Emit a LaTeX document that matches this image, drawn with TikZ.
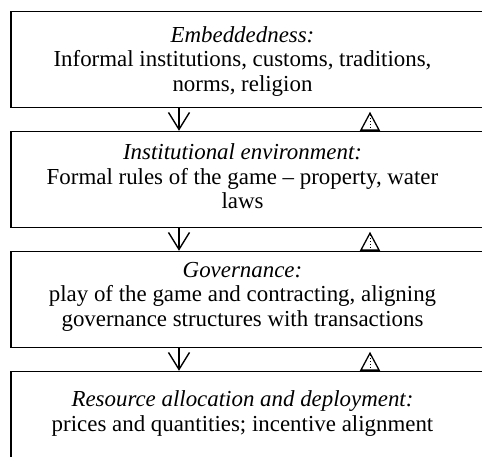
\documentclass[tikz,border=0pt]{standalone}
\usepackage{fontspec}
\setmainfont{Liberation Serif}
\usetikzlibrary{positioning,arrows.meta}
\begin{document}
\begin{tikzpicture}[x=1pt,y=-1pt]

			\tikzstyle{level}=[draw=black,line width=1.5pt,
				minimum width=479pt,minimum height=96pt,
				node distance=120pt]
			\tikzstyle{caption}=[align=center,inner sep=0pt,
				font=\fontsize{22.9}{24.5}\selectfont]
			\tikzstyle{down}=[line width=1.4pt,
				-{Straight Barb[length=17pt,width=21pt,line width=1.4pt]}]
			\tikzstyle{up}=[line width=1pt,dotted,shorten >=5pt]
			\tikzstyle{uphead}=[line width=1.3pt,
				-{Triangle[open,length=19pt,width=20pt,line width=1.3pt]}]

			\clip (0,0) rectangle (482,456);

			\node[level] at (250.5,59.5)	(b1)	{};
			\node[level,below of=b1]	(b2)	{};
			\node[level,below of=b2]	(b3)	{};
			\node[level,below of=b3]	(b4)	{};

			\node[caption] at ([xshift=-8pt,yshift=-2pt]b1.center)	(t1)
				{\textit{Embeddedness:}\\Informal institutions, customs, traditions,\\norms, religion};
			\node[caption] at ([xshift=-8pt,yshift=3pt]b2.center)	(t2)
				{\textit{Institutional environment:}\\Formal rules of the game \textendash{} property, water\\laws};
			\node[caption] at ([xshift=-8pt,yshift=3pt]b3.center)	(t3)
				{\textit{Governance:}\\play of the game and contracting, aligning\\governance structures with transactions};
			\node[caption] at ([xshift=-8pt,yshift=6pt]b4.center)	(t4)
				{\textit{Resource allocation and deployment:}\\prices and quantities; incentive alignment};

			\foreach \a/\b in {b1/b2,b2/b3,b3/b4}{
				\draw[down] ([xshift=-71.5pt]\a.south) -- ([xshift=-71.5pt]\b.north);
				\draw[up] ([xshift=119.5pt]\b.north) -- ([xshift=119.5pt]\a.south);
				\draw[uphead] ([xshift=119.5pt]\b.north) -- ([xshift=119.5pt,yshift=19pt]\b.north);
			}

			\end{tikzpicture}
\end{document}
